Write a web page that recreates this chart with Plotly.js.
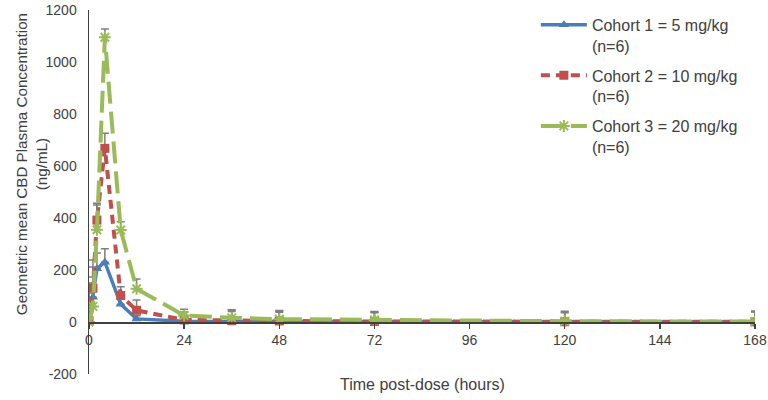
<!DOCTYPE html>
<html><head><meta charset="utf-8">
<script src="https://cdn.plot.ly/plotly-3.0.1.min.js"></script>
<style>body{margin:0;background:#fff}#c{width:768px;height:400px}</style>
</head><body><div id="c"></div>
<script>
var timeHours = [0, 1, 2, 4, 8, 12, 24, 36, 48, 72, 120, 168];
var cohort1 = [0, 95, 205, 230, 68, 12, 3, 2, 1.5, 1, 0.5, 0.3];
var cohort2 = [5, 130, 392, 668, 102, 45, 8, 5, 4, 2, 1, 0.5];
var cohort3 = [0, 60, 355, 1095, 354, 128, 25, 16, 11, 8, 3, 1.5];
var err1 = [0, 78, 60, 52, 22, 12, 20, 38, 36, 35, 35, 38];
var err2 = [145, 108, 65, 58, 34, 40, 30, 42, 40, 38, 40, 42];
var err3 = [112, 152, 95, 32, 32, 37, 24, 30, 30, 30, 35, 38];
var names = ['Cohort 1 = 5 mg/kg<br>(n=6)', 'Cohort 2 = 10 mg/kg<br>(n=6)', 'Cohort 3 = 20 mg/kg<br>(n=6)'];
var yTicks = [-200, 0, 200, 400, 600, 800, 1000, 1200];
var xTicks = [0, 24, 48, 72, 96, 120, 144, 168];
var yTitle = 'Geometric mean CBD Plasma Concentration<br>(ng/mL)';
var xTitle = 'Time post-dose (hours)';

function zeros(a){return a.map(function(){return 0;});}
function eb(arr){return {type:'data', symmetric:false, array:arr, arrayminus:zeros(arr), color:'#7f7f7f', thickness:1.5, width:4};}

var traces = [
 {x:timeHours, y:cohort1, name:names[0], legendgroup:'a', mode:'lines+markers', error_y:eb(err1),
  line:{color:'#4a7ebb', width:3.5}, marker:{symbol:'triangle-up', size:9, color:'#4a7ebb'}},
 {x:timeHours, y:cohort2, name:names[1], legendgroup:'b', mode:'lines+markers', error_y:eb(err2),
  line:{color:'#c0504d', width:4, dash:'9px,6px'}, marker:{symbol:'square', size:9, color:'#c0504d'}},
 {x:timeHours, y:cohort3, name:names[2], legendgroup:'c', mode:'lines+markers', error_y:eb(err3),
  line:{color:'#9bbb59', width:4, dash:'22px,8px'}, marker:{symbol:'asterisk-open', size:10, color:'#9bbb59', line:{color:'#9bbb59', width:2}}}
];

var fontFam = 'Liberation Sans, Arial, sans-serif';
var layout = {
 width:768, height:400,
 margin:{l:89, r:13, t:8, b:26},
 paper_bgcolor:'#fff', plot_bgcolor:'#fff',
 font:{family:fontFam, size:14, color:'#404040'},
 showlegend:true,
 legend:{x:0.671, y:1.006, xanchor:'left', yanchor:'top', traceorder:'grouped', tracegroupgap:6,
   valign:'top', font:{size:16, color:'#404040'}, itemwidth:46, bgcolor:'rgba(0,0,0,0)'},
 xaxis:{range:[0,168], tickvals:xTicks, ticktext:xTicks.map(String), anchor:'free', position:200/1400,
   showline:true, linecolor:'#404040', linewidth:1.5, ticks:'outside', ticklen:5, tickwidth:1.5, tickcolor:'#404040',
   showgrid:false, zeroline:false, tickfont:{size:14}, ticklabeloverflow:'allow'},
 yaxis:{range:[-200,1200], tickvals:yTicks, ticktext:yTicks.map(String), showline:true, linecolor:'#404040', linewidth:1.5,
   ticks:'outside', ticklen:8, tickcolor:'rgba(0,0,0,0)', showgrid:false, zeroline:false, tickfont:{size:14},
   ticklabeloverflow:'allow'},
 annotations:[
  {text:yTitle, xref:'paper', yref:'paper', x:(31-89)/666, y:(374-163)/366, xanchor:'center', yanchor:'middle',
   textangle:-90, showarrow:false, font:{size:15.2, color:'#404040'}},
  {text:xTitle, xref:'paper', yref:'paper', x:0.5, y:(374-385)/366, xanchor:'center', yanchor:'middle',
   showarrow:false, font:{size:16, color:'#404040'}}
 ]
};
Plotly.newPlot('c', traces, layout, {displayModeBar:false, staticPlot:true});
</script></body></html>
